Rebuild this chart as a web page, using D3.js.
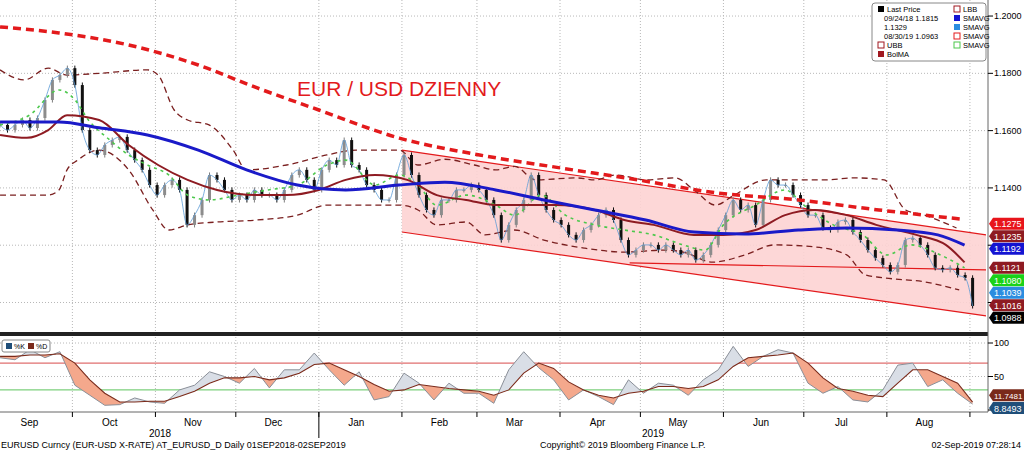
<!DOCTYPE html>
<html>
<head>
<meta charset="utf-8">
<script src="https://cdn.jsdelivr.net/npm/d3@7"></script>
<style>
  body { margin: 0; background: #fff; }
  text { font-family: "Liberation Sans", Arial, sans-serif; }
</style>
</head>
<body>
<svg id="chart" width="1024" height="450"></svg>
<script>
// daily-ish closes, Sep 4 2018 .. Sep 2 2019 (evenly spaced)
const closes = [1.1620,1.1602,1.1620,1.1637,1.1609,1.1644,1.1707,1.1777,1.1794,1.1818,
  1.1759,1.1602,1.1532,1.1515,1.1550,1.1567,1.1578,1.1532,1.1497,1.1463,
  1.1410,1.1375,1.1410,1.1428,1.1393,1.1271,1.1305,1.1358,1.1445,1.1428,
  1.1393,1.1358,1.1375,1.1358,1.1393,1.1375,1.1375,1.1358,1.1393,1.1445,
  1.1463,1.1428,1.1393,1.1463,1.1497,1.1480,1.1567,1.1480,1.1463,1.1410,
  1.1393,1.1358,1.1358,1.1445,1.1515,1.1445,1.1375,1.1323,1.1305,1.1358,
  1.1358,1.1393,1.1393,1.1410,1.1393,1.1358,1.1305,1.1218,1.1271,1.1323,
  1.1358,1.1445,1.1375,1.1323,1.1288,1.1271,1.1236,1.1218,1.1253,1.1271,
  1.1305,1.1323,1.1288,1.1218,1.1166,1.1183,1.1201,1.1201,1.1183,1.1201,
  1.1183,1.1166,1.1183,1.1148,1.1166,1.1201,1.1253,1.1305,1.1358,1.1323,
  1.1340,1.1271,1.1358,1.1428,1.1410,1.1410,1.1375,1.1340,1.1305,1.1305,
  1.1260,1.1253,1.1281,1.1288,1.1246,1.1218,1.1183,1.1155,1.1131,1.1107,
  1.1131,1.1218,1.1225,1.1201,1.1166,1.1121,1.1114,1.1121,1.1096,1.1086,1.0988];

// moving averages: [date, price]
const sma200 = [["2018-09-04",1.1962],["2018-09-26",1.1941],["2018-10-22",1.1899],["2018-11-17",1.1829],
  ["2018-12-09",1.1749],["2019-01-01",1.1672],["2019-01-31",1.1574],["2019-03-02",1.1515],["2019-04-01",1.1470],
  ["2019-04-30",1.1428],["2019-05-30",1.1382],["2019-06-29",1.1358],["2019-07-29",1.1323],["2019-08-30",1.1290]];
const sma50 = [["2018-09-04",1.1630],["2018-09-26",1.1630],["2018-10-11",1.1610],["2018-10-29",1.1585],
  ["2018-11-17",1.1532],["2018-12-05",1.1463],["2018-12-24",1.1410],["2019-01-11",1.1393],["2019-01-31",1.1410],
  ["2019-02-17",1.1420],["2019-03-08",1.1393],["2019-03-26",1.1358],["2019-04-14",1.1323],["2019-05-03",1.1288],
  ["2019-05-21",1.1246],["2019-06-09",1.1239],["2019-06-29",1.1253],["2019-07-17",1.1260],["2019-08-05",1.1253],
  ["2019-08-20",1.1236],["2019-08-30",1.1200]];
const bolMa = [["2018-09-04",1.1585],["2018-09-14",1.1575],["2018-09-22",1.1602],["2018-09-29",1.1654],
  ["2018-10-11",1.1637],["2018-10-22",1.1550],["2018-11-02",1.1480],["2018-11-13",1.1428],["2018-11-24",1.1393],
  ["2018-12-09",1.1375],["2018-12-20",1.1375],["2019-01-01",1.1393],["2019-01-11",1.1428],["2019-01-22",1.1445],
  ["2019-02-03",1.1428],["2019-02-14",1.1375],["2019-02-25",1.1358],["2019-03-08",1.1340],["2019-03-19",1.1340],
  ["2019-03-30",1.1340],["2019-04-14",1.1323],["2019-04-25",1.1288],["2019-05-06",1.1271],["2019-05-21",1.1236],
  ["2019-06-01",1.1236],["2019-06-13",1.1253],["2019-06-24",1.1305],["2019-07-05",1.1323],["2019-07-17",1.1305],
  ["2019-07-28",1.1271],["2019-08-12",1.1236],["2019-08-23",1.1201],["2019-08-30",1.1140]];
const bandUp = [["2018-09-04",1.1812],["2018-09-13",1.1777],["2018-09-22",1.1818],["2018-09-29",1.1794],
  ["2018-10-11",1.1800],["2018-10-29",1.1812],["2018-11-02",1.1794],["2018-11-08",1.1672],["2018-11-13",1.1637],
  ["2018-11-21",1.1620],["2018-11-30",1.1532],["2018-12-05",1.1463],["2018-12-20",1.1480],["2019-01-04",1.1515],
  ["2019-01-15",1.1532],["2019-01-31",1.1532],["2019-02-07",1.1480],["2019-02-17",1.1500],["2019-02-28",1.1480],
  ["2019-03-08",1.1463],["2019-03-15",1.1475],["2019-03-23",1.1428],["2019-04-07",1.1435],["2019-04-14",1.1428],
  ["2019-04-22",1.1445],["2019-05-03",1.1428],["2019-05-14",1.1435],["2019-05-21",1.1393],["2019-05-29",1.1340],
  ["2019-06-05",1.1375],["2019-06-17",1.1428],["2019-06-28",1.1428],["2019-07-09",1.1428],["2019-07-20",1.1435],
  ["2019-07-31",1.1428],["2019-08-08",1.1323],["2019-08-15",1.1305],["2019-08-27",1.1260]];
const bandLo = [["2018-09-04",1.1375],["2018-09-22",1.1375],["2018-09-26",1.1393],["2018-09-29",1.1463],
  ["2018-10-03",1.1497],["2018-10-11",1.1532],["2018-10-22",1.1463],["2018-10-31",1.1323],["2018-11-06",1.1253],
  ["2018-11-13",1.1271],["2018-11-24",1.1281],["2018-12-09",1.1288],["2018-12-24",1.1305],["2019-01-04",1.1340],
  ["2019-01-31",1.1340],["2019-02-07",1.1323],["2019-02-14",1.1271],["2019-02-25",1.1281],["2019-03-04",1.1236],
  ["2019-03-15",1.1253],["2019-03-26",1.1218],["2019-04-10",1.1190],["2019-04-25",1.1176],["2019-05-10",1.1183],
  ["2019-05-17",1.1176],["2019-05-28",1.1141],["2019-06-09",1.1166],["2019-06-20",1.1201],["2019-07-05",1.1194],
  ["2019-07-17",1.1166],["2019-07-24",1.1096],["2019-07-31",1.1086],["2019-08-15",1.1072],["2019-08-28",1.1044]];
const sma10 = [["2018-09-04",1.1620],["2018-09-15",1.1654],["2018-09-26",1.1742],["2018-10-02",1.1707],
  ["2018-10-07",1.1637],["2018-10-15",1.1567],["2018-10-22",1.1515],["2018-10-29",1.1480],["2018-11-06",1.1445],
  ["2018-11-13",1.1375],["2018-11-21",1.1358],["2018-12-02",1.1375],["2018-12-13",1.1393],["2018-12-24",1.1410],
  ["2019-01-04",1.1480],["2019-01-11",1.1497],["2019-01-22",1.1410],["2019-01-31",1.1445],["2019-02-07",1.1410],
  ["2019-02-14",1.1340],["2019-02-25",1.1375],["2019-03-08",1.1340],["2019-03-15",1.1305],["2019-03-25",1.1375],
  ["2019-04-03",1.1305],["2019-04-14",1.1271],["2019-04-25",1.1253],["2019-05-06",1.1236],["2019-05-17",1.1201],
  ["2019-05-25",1.1183],["2019-06-01",1.1271],["2019-06-13",1.1340],["2019-06-24",1.1393],["2019-07-01",1.1340],
  ["2019-07-12",1.1271],["2019-07-23",1.1236],["2019-08-01",1.1166],["2019-08-10",1.1201],["2019-08-21",1.1166],
  ["2019-08-30",1.1121]];
// trend channel and horizontal support
const channelTop = [["2019-02-01",1.1532],["2019-09-07",1.1236]];
const channelBot = [["2019-02-01",1.1246],["2019-09-07",1.0953]];
const support = [["2019-04-27",1.1138],["2019-09-07",1.1114]];

// slow stochastic, evenly spaced over the same period
const stochK = [78,75,90,78,87,37,22,7,8,18, 12,10,30,37,57,50,40,62,33,60,
  60,85,60,37,57,15,20,55,40,15, 40,25,25,10,60,87,63,45,15,30,
  20,8,45,25,40,37,22,45,60,95, 65,80,90,85,40,25,35,15,12,30, 67,70,35,45,25,8.8493];
const stochD = [80,80,82,82,84,70,45,25,12,12, 13,13,20,28,40,48,48,50,45,48,
  55,68,70,60,50,38,28,30,38,35, 32,30,28,22,30,55,70,62,42,30,
  22,18,25,28,35,35,32,35,45,65, 78,80,82,85,70,48,32,28,22,20, 40,60,60,50,40,11.7481];

const months = ["Sep","Oct","Nov","Dec","Jan","Feb","Mar","Apr","May","Jun","Jul","Aug"];
const priceTicks = [1.10, 1.12, 1.14, 1.16, 1.18, 1.20];
const hiddenPriceLabels = [1.10, 1.12]; // sit behind the value tags
const tags = [
  { v: 1.1275, t: "1.1275", c: "#e8141b" },
  { v: 1.1235, t: "1.1235", c: "#8e1b22" },
  { v: 1.1192, t: "1.1192", c: "#1414d2" },
  { v: 1.1121, t: "1.1121", c: "#8e1b22" },
  { v: 1.1080, t: "1.1080", c: "#19d219" },
  { v: 1.1039, t: "1.1039", c: "#2a8de0" },
  { v: 1.1016, t: "1.1016", c: "#8e1b22" },
  { v: 1.0988, t: "1.0988", c: "#000000" }
];

const svg = d3.select("#chart");
const W = 988, topH = 332, lowTop = 337, lowBot = 412;
const parse = d3.timeParse("%Y-%m-%d");
const start = new Date(2018, 8, 4), end = new Date(2019, 8, 2);

const x = d3.scaleTime().domain([new Date(2018, 8, 1), new Date(2019, 8, 7)]).range([-8, 986]);
const y = d3.scaleLinear().domain([1.0897, 1.2056]).range([topH, 0]);
const ys = d3.scaleLinear().domain([0, 100]).range([410, 343]);
const spread = (n) => d3.scaleTime().domain([0, n - 1]).range([start, end]);
const cDate = spread(closes.length), sDate = spread(stochK.length);

const defs = svg.append("defs");
defs.append("clipPath").attr("id", "clipTop").append("rect").attr("width", W).attr("height", topH);
defs.append("clipPath").attr("id", "clipLow").append("rect").attr("y", lowTop).attr("width", W).attr("height", lowBot - lowTop);

// grid
const monthStarts = d3.timeMonth.range(new Date(2018, 9, 1), new Date(2019, 8, 2));
const grid = svg.append("g").attr("stroke", "#b8b8b8").attr("stroke-dasharray", "1,2");
monthStarts.forEach(d => {
  grid.append("line").attr("x1", x(d)).attr("x2", x(d)).attr("y1", 0).attr("y2", topH);
  grid.append("line").attr("x1", x(d)).attr("x2", x(d)).attr("y1", lowTop).attr("y2", lowBot);
});
priceTicks.forEach(v => grid.append("line").attr("x1", 0).attr("x2", W).attr("y1", y(v)).attr("y2", y(v)));
[100, 50].forEach(v => grid.append("line").attr("x1", 0).attr("x2", W).attr("y1", ys(v)).attr("y2", ys(v)));

const upper = svg.append("g").attr("clip-path", "url(#clipTop)");
const pt = (d) => [x(parse(d[0])), y(d[1])];
const line = d3.line().curve(d3.curveMonotoneX);

// channel fill
const poly = [pt(channelTop[0]), pt(channelTop[1]), pt(channelBot[1]), pt(channelBot[0])];
upper.append("path").attr("d", "M" + poly.join("L") + "Z").attr("fill", "#fdd3d3").attr("opacity", 0.9);
[channelTop, channelBot, support].forEach(s =>
  upper.append("path").attr("d", d3.line()(s.map(pt))).attr("stroke", "#e31a1c").attr("stroke-width", 1.2).attr("fill", "none"));

// bollinger bands
[bandUp, bandLo].forEach(s =>
  upper.append("path").attr("d", line(s.map(pt))).attr("fill", "none").attr("stroke", "#7a1f1f")
    .attr("stroke-width", 1.3).attr("stroke-dasharray", "6,4"));

// candles
const wick = 0.0009;
closes.forEach((c, i) => {
  const o = i ? closes[i - 1] : c;
  const xi = x(cDate(i));
  const up = c >= o;
  upper.append("line").attr("x1", xi).attr("x2", xi)
    .attr("y1", y(Math.max(o, c) + wick)).attr("y2", y(Math.min(o, c) - wick)).attr("stroke", up ? "#7d7d7d" : "#111");
  upper.append("rect").attr("x", xi - 1.5).attr("width", 3)
    .attr("y", y(Math.max(o, c))).attr("height", Math.max(1, y(Math.min(o, c)) - y(Math.max(o, c))))
    .attr("fill", up ? "#8c8c8c" : "#111");
});

// 5-day line
upper.append("path").attr("d", line(closes.map((c, i) => [x(cDate(i)), y(c)])))
  .attr("fill", "none").attr("stroke", "#5b9bd5").attr("stroke-width", 0.8);
upper.append("path").attr("d", line(sma10.map(pt))).attr("fill", "none").attr("stroke", "#4cc84c")
  .attr("stroke-width", 1.6).attr("stroke-dasharray", "3,4");
upper.append("path").attr("d", line(bolMa.map(pt))).attr("fill", "none").attr("stroke", "#8e1b22").attr("stroke-width", 2);
upper.append("path").attr("d", line(sma50.map(pt))).attr("fill", "none").attr("stroke", "#1a1ac8").attr("stroke-width", 3);
upper.append("path").attr("d", line(sma200.map(pt))).attr("fill", "none").attr("stroke", "#e31a1c")
  .attr("stroke-width", 3.5).attr("stroke-dasharray", "8,5");

svg.append("text").attr("x", 297).attr("y", 96).attr("fill", "#e31a1c").attr("font-size", 21).text("EUR / USD DZIENNY");

// stochastic panel
const lower = svg.append("g").attr("clip-path", "url(#clipLow)");
lower.append("line").attr("x1", 0).attr("x2", W).attr("y1", ys(70)).attr("y2", ys(70)).attr("stroke", "#d84a4a");
lower.append("line").attr("x1", 0).attr("x2", W).attr("y1", ys(30)).attr("y2", ys(30)).attr("stroke", "#5cc45c");
const sx = (i) => x(sDate(i));
const idx = d3.range(stochK.length);
const band = d3.area().x(sx).y0(i => ys(stochD[i])).y1(i => ys(stochK[i]));
const belowD = d3.area().x(sx).y0(lowBot).y1(i => ys(stochD[i]));
const aboveD = d3.area().x(sx).y0(lowTop).y1(i => ys(stochD[i]));
defs.append("clipPath").attr("id", "belowD").append("path").attr("d", belowD(idx));
defs.append("clipPath").attr("id", "aboveD").append("path").attr("d", aboveD(idx));
lower.append("path").attr("d", band(idx)).attr("fill", "#f4a88c").attr("clip-path", "url(#belowD)");
lower.append("path").attr("d", band(idx)).attr("fill", "#d9dee6").attr("clip-path", "url(#aboveD)");
lower.append("path").attr("d", d3.line().x(sx).y(i => ys(stochK[i]))(idx)).attr("fill", "none").attr("stroke", "#8a8f98");
lower.append("path").attr("d", d3.line().x(sx).y(i => ys(stochD[i]))(idx)).attr("fill", "none").attr("stroke", "#7a2a1a").attr("stroke-width", 1.1);

// frames
svg.append("rect").attr("x", 0).attr("y", 332).attr("width", W).attr("height", 4).attr("fill", "#222");
svg.append("line").attr("x1", W).attr("x2", W).attr("y1", 0).attr("y2", lowBot).attr("stroke", "#666");
svg.append("line").attr("x1", 0).attr("x2", W).attr("y1", lowBot).attr("y2", lowBot).attr("stroke", "#666");

// right axes
const axR = svg.append("g").attr("font-size", 9);
priceTicks.forEach(v => {
  axR.append("line").attr("x1", W).attr("x2", W + 5).attr("y1", y(v)).attr("y2", y(v)).attr("stroke", "#000");
  if (!hiddenPriceLabels.includes(v)) axR.append("text").attr("x", W + 6).attr("y", y(v) + 3).text(v.toFixed(4));
});
[0, 50, 100].forEach(v => {
  axR.append("line").attr("x1", W).attr("x2", W + 5).attr("y1", ys(v)).attr("y2", ys(v)).attr("stroke", "#000");
  if (v) axR.append("text").attr("x", W + 6).attr("y", ys(v) + 3).text(v);
});

function tag(yy, text, color, fs) {
  const g = svg.append("g").attr("transform", `translate(${W + 1},${yy})`);
  g.append("path").attr("d", "M0,0 L4,-6 L35,-6 L35,6 L4,6 Z").attr("fill", color);
  g.append("text").attr("x", 5).attr("y", 3.5).attr("fill", "#fff").attr("font-size", fs || 9).text(text);
}
// stack overlapping tags the way the terminal does
let lastY = -100;
tags.forEach(t => { const yy = Math.max(y(t.v), lastY + 12.5); lastY = yy; tag(yy, t.t, t.c); });
tag(ys(stochD[stochD.length - 1]) - 7, stochD[stochD.length - 1].toFixed(4), "#7a2a1a", 8);
tag(ys(stochK[stochK.length - 1]) + 4, stochK[stochK.length - 1].toFixed(4), "#1f4e79");

// bottom axis
const axB = svg.append("g").attr("font-size", 10);
monthStarts.forEach(d => axB.append("line").attr("x1", x(d)).attr("x2", x(d)).attr("y1", lowBot).attr("y2", lowBot + 5).attr("stroke", "#000"));
axB.append("line").attr("x1", x(new Date(2019, 0, 1))).attr("x2", x(new Date(2019, 0, 1))).attr("y1", lowBot).attr("y2", 438).attr("stroke", "#000");
d3.timeMonth.range(new Date(2018, 8, 1), new Date(2019, 8, 1)).forEach((d, i) =>
  axB.append("text").attr("x", x(d3.timeDay.offset(d, 14))).attr("y", 426).attr("text-anchor", "middle").text(months[i]));
axB.append("text").attr("x", 160).attr("y", 437).attr("text-anchor", "middle").text("2018");
axB.append("text").attr("x", 653).attr("y", 437).attr("text-anchor", "middle").text("2019");

const foot = svg.append("g").attr("font-size", 9);
foot.append("text").attr("x", 1).attr("y", 448).text("EURUSD Curncy (EUR-USD X-RATE) AT_EURUSD_D  Daily 01SEP2018-02SEP2019");
foot.append("text").attr("x", 540).attr("y", 448).text("Copyright\u00a9 2019 Bloomberg Finance L.P.");
foot.append("text").attr("x", 1021).attr("y", 448).attr("text-anchor", "end").text("02-Sep-2019 07:28:14");

// legend
const lg = svg.append("g").attr("transform", "translate(872,3)").attr("font-size", 7.5);
lg.append("rect").attr("width", 114).attr("height", 58).attr("rx", 3).attr("fill", "#fff").attr("stroke", "#888");
const leftItems = [["Last Price", "#000"], ["09/24/18 1.1815", null], ["1.1329", null], ["08/30/19 1.0963", null], ["UBB", "#fff"], ["BolMA", "#a01820"]];
leftItems.forEach((it, i) => {
  const yy = 9 + i * 9;
  if (it[1]) lg.append("rect").attr("x", 6).attr("y", yy - 6).attr("width", 6).attr("height", 6).attr("fill", it[1]).attr("stroke", it[1] === "#fff" ? "#a01820" : "none");
  lg.append("text").attr("x", it[1] ? 15 : 12).attr("y", yy).text(it[0]);
});
const rightItems = [["LBB", "#fff", "#a01820"], ["SMAVG", "#1414d2"], ["SMAVG", "#2a8de0"], ["SMAVG", "#fff", "#e31a1c"], ["SMAVG", "#fff", "#4cc84c"]];
rightItems.forEach((it, i) => {
  const yy = 9 + i * 9;
  lg.append("rect").attr("x", 82).attr("y", yy - 6).attr("width", 6).attr("height", 6).attr("fill", it[1]).attr("stroke", it[2] || "none");
  lg.append("text").attr("x", 91).attr("y", yy).text(it[0]);
});

// stochastic legend
const sl = svg.append("g").attr("transform", "translate(2,340)").attr("font-size", 7);
sl.append("rect").attr("width", 48).attr("height", 12).attr("rx", 2).attr("fill", "#fff").attr("stroke", "#888");
sl.append("rect").attr("x", 4).attr("y", 3).attr("width", 6).attr("height", 6).attr("fill", "#1f4e79");
sl.append("text").attr("x", 12).attr("y", 9).text("%K");
sl.append("rect").attr("x", 26).attr("y", 3).attr("width", 6).attr("height", 6).attr("fill", "#7a2a1a");
sl.append("text").attr("x", 34).attr("y", 9).text("%D");
</script>
</body>
</html>
